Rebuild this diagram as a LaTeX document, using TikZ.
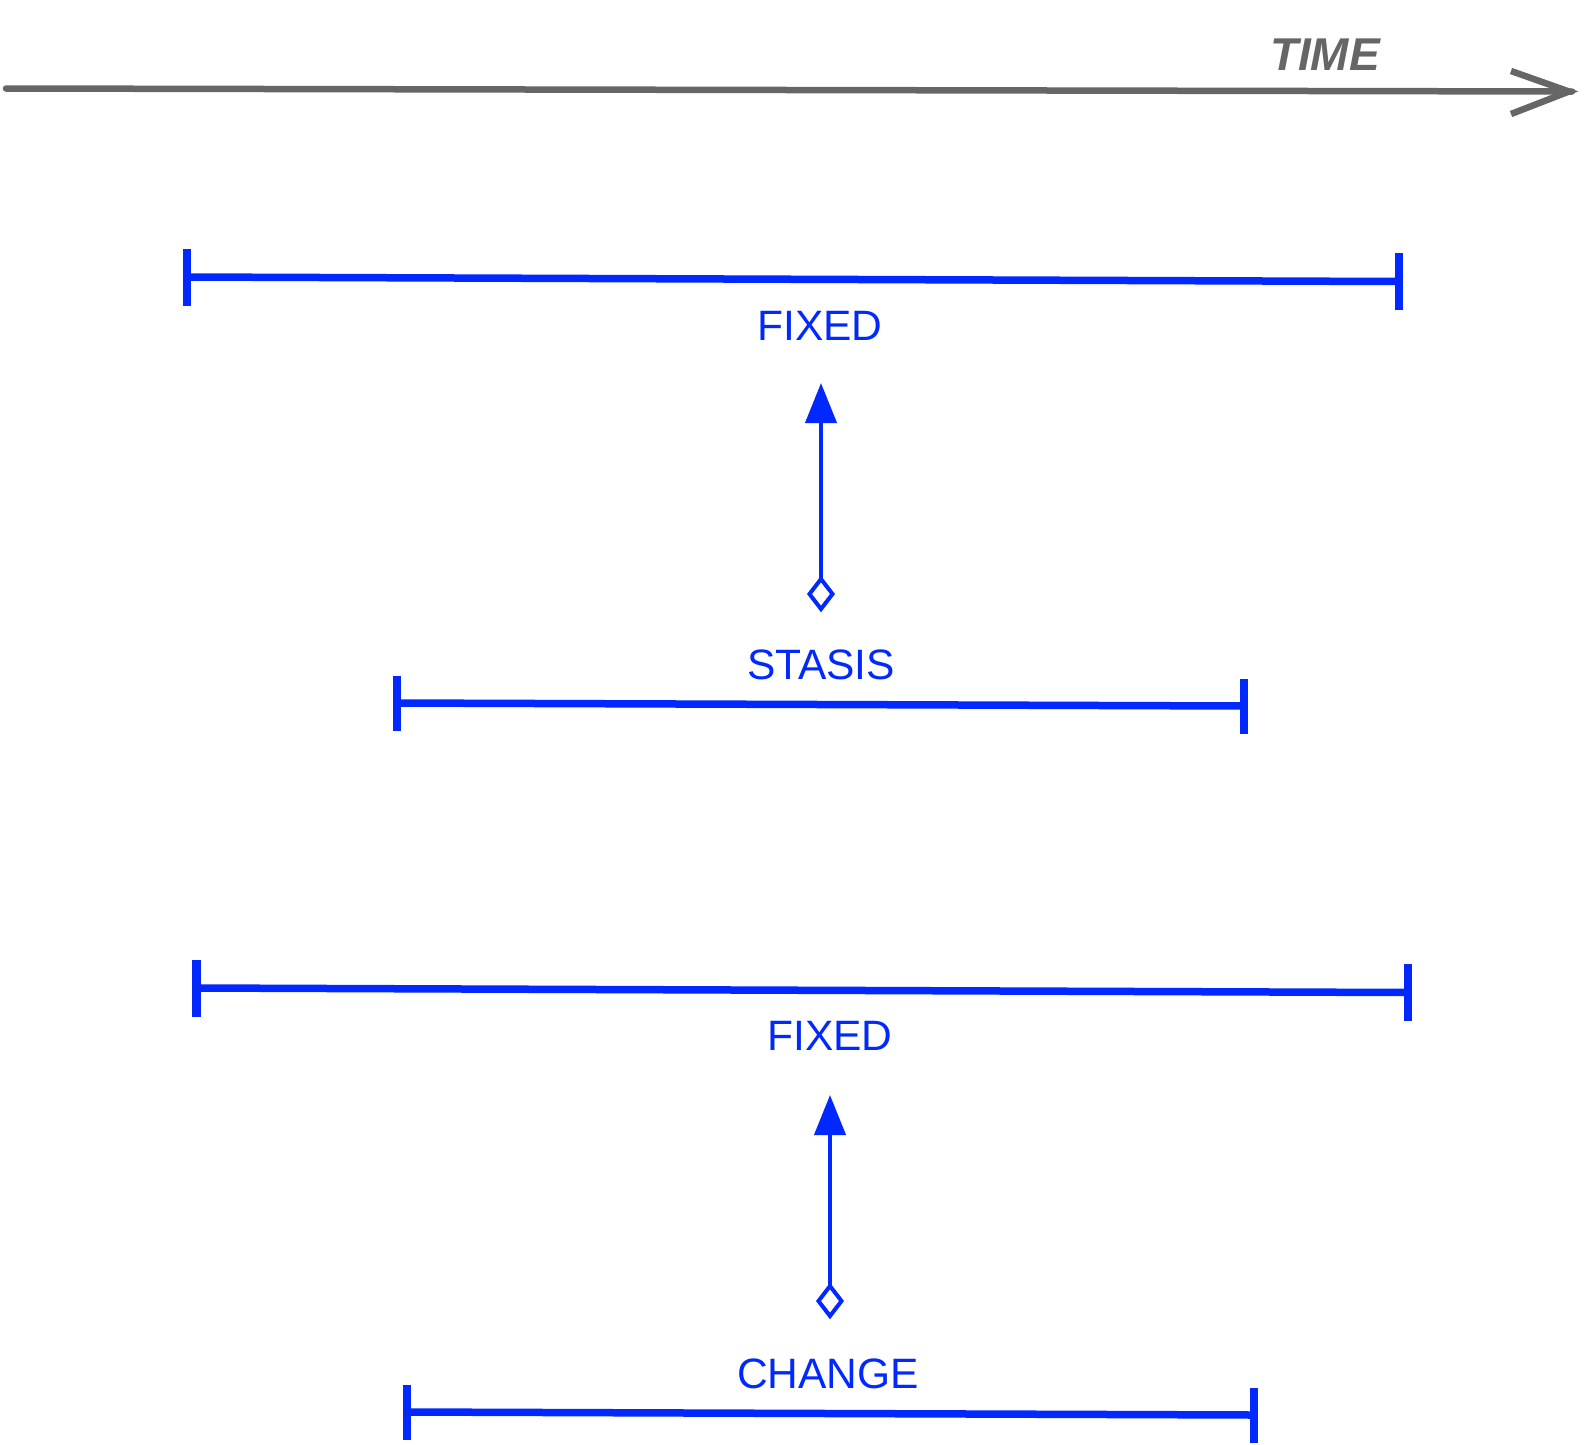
\documentclass[tikz,border=0pt]{standalone}
\usepackage{fontspec}
\setmainfont{Liberation Sans}
\usetikzlibrary{arrows.meta}
\definecolor{bblue}{RGB}{0,40,255}
\definecolor{tgray}{RGB}{102,102,102}
\tikzset{
  barline/.style={draw=bblue, line width=7.5pt, line cap=butt},
  tickline/.style={draw=bblue, line width=8.5pt, line cap=butt},
  lbl/.style={text=bblue, inner sep=0pt, font=\fontsize{42.5}{50}\selectfont},
  link/.style={draw=bblue, line width=4.2pt, -{Triangle[length=40pt, width=31pt]}},
  dmd/.style={draw=bblue, line width=4pt, line join=miter},
}
\begin{document}
\begin{tikzpicture}[x=1pt, y=-1pt]
\useasboundingbox (0,0) rectangle (1588,1444);
% time axis
\coordinate (t0) at (6,88.5);
\coordinate (t1) at (1572,91.5);
\draw[tgray, line width=6.5pt, line cap=round] (t0) -- (t1);
\coordinate (ta) at (1511,71);
\coordinate (tb) at (1569,91.5);
\coordinate (tc) at (1511,114);
\draw[tgray, line width=6.5pt, line cap=butt, line join=miter] (ta) -- (tb) -- (tc);
\node[text=tgray, inner sep=0pt, font=\fontsize{46}{54}\selectfont\bfseries\itshape] (time) at (1325,55) {TIME};

% bar 1
\coordinate (a1) at (187,277); \coordinate (b1) at (1399,281.5);
\draw[barline] (a1) -- (b1);
\draw[tickline] ([yshift=-28.5pt]a1) -- ([yshift=28.5pt]a1);
\draw[tickline] ([yshift=-28.5pt]b1) -- ([yshift=28.5pt]b1);
\node[lbl] (fixed1) at (820,326) {FIXED};

% link 1
\coordinate (d1) at (821,594);
\draw[dmd] ([yshift=15pt]d1) -- ([xshift=11.5pt]d1) -- ([yshift=-15pt]d1) -- ([xshift=-11.5pt]d1) -- cycle;
\coordinate (d1t) at ([yshift=15pt]d1);
\coordinate (e1) at (821,383);
\draw[link] (d1t) -- (e1);

% bar 2
\node[lbl] (stasis) at (821,665) {STASIS};
\coordinate (a2) at (397,703); \coordinate (b2) at (1244,706);
\draw[barline] (a2) -- (b2);
\draw[tickline] ([yshift=-27.5pt]a2) -- ([yshift=27.5pt]a2);
\draw[tickline] ([yshift=-27.5pt]b2) -- ([yshift=27.5pt]b2);

% bar 3
\coordinate (a3) at (196.5,988); \coordinate (b3) at (1408,992.5);
\draw[barline] (a3) -- (b3);
\draw[tickline] ([yshift=-28.5pt]a3) -- ([yshift=28.5pt]a3);
\draw[tickline] ([yshift=-28.5pt]b3) -- ([yshift=28.5pt]b3);
\node[lbl] (fixed2) at (830,1036) {FIXED};

% link 2
\coordinate (d2) at (830,1301);
\draw[dmd] ([yshift=15pt]d2) -- ([xshift=11.5pt]d2) -- ([yshift=-15pt]d2) -- ([xshift=-11.5pt]d2) -- cycle;
\coordinate (d2t) at ([yshift=15pt]d2);
\coordinate (e2) at (830,1095);
\draw[link] (d2t) -- (e2);

% bar 4
\node[lbl] (change) at (828,1373.5) {CHANGE};
\coordinate (a4) at (407,1412); \coordinate (b4) at (1254,1415);
\draw[barline] (a4) -- (b4);
\draw[tickline] ([yshift=-27.5pt]a4) -- ([yshift=27.5pt]a4);
\draw[tickline] ([yshift=-27.5pt]b4) -- ([yshift=27.5pt]b4);
\end{tikzpicture}
\end{document}
